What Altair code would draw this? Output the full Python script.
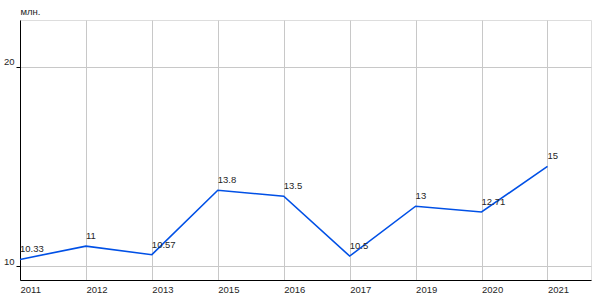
import altair as alt
import pandas as pd

years = ["2011", "2012", "2013", "2015", "2016", "2017", "2019", "2020", "2021"]
values = [10.33, 11, 10.57, 13.8, 13.5, 10.5, 13, 12.71, 15]
labels = ["10.33", "11", "10.57", "13.8", "13.5", "10.5", "13", "12.71", "15"]

df = pd.DataFrame({"idx": list(range(len(years))), "year": years, "value": values, "label": labels})

FONT = "Liberation Sans"
FS = 9.5
TXT = "#262626"
label_expr = "[" + ",".join(f"'{y}'" for y in years) + "][datum.value]"

x = alt.X("idx:Q", scale=alt.Scale(domain=[0, 8.66], nice=False, zero=False),
          axis=alt.Axis(values=list(range(len(years))), labelExpr=label_expr, ticks=False,
                        labelAlign="left", labelPadding=4, title=None, grid=True,
                        gridColor="#c8c8c8", domainColor="#000000", labelFont=FONT,
                        labelFontSize=FS, labelColor=TXT, labelFlush=False))
y = alt.Y("value:Q", scale=alt.Scale(domain=[9.3, 22.34], nice=False, zero=False),
          axis=alt.Axis(values=[10, 20], tickSize=4, tickColor="#000000", labelBaseline="bottom",
                        labelPadding=2, grid=True, gridColor="#c8c8c8", domainColor="#000000",
                        labelFont=FONT, labelFontSize=FS, labelColor=TXT,
                        title="млн.", titleAngle=0, titleX=0, titleY=-4, titleAlign="left",
                        titleBaseline="bottom", titleFont=FONT, titleFontSize=FS,
                        titleFontWeight="normal", titleColor=TXT))

base = alt.Chart(df).encode(x=x, y=y)
line = base.mark_line(color="#0050e6", strokeWidth=1.6)
text = base.mark_text(align="left", baseline="alphabetic", dx=0, dy=-7, font=FONT,
                      fontSize=FS, color=TXT).encode(text="label:N")

chart = (line + text).properties(
    width=571, height=260,
    padding={"left": 20, "top": 20, "right": 9, "bottom": 20},
    autosize=alt.AutoSizeParams(type="none"),
).configure_view(fill="#ebebeb", strokeWidth=0, strokeOpacity=0).configure(background="#ffffff")

chart.save("out.html", embed_options={"renderer": "svg", "actions": False})
